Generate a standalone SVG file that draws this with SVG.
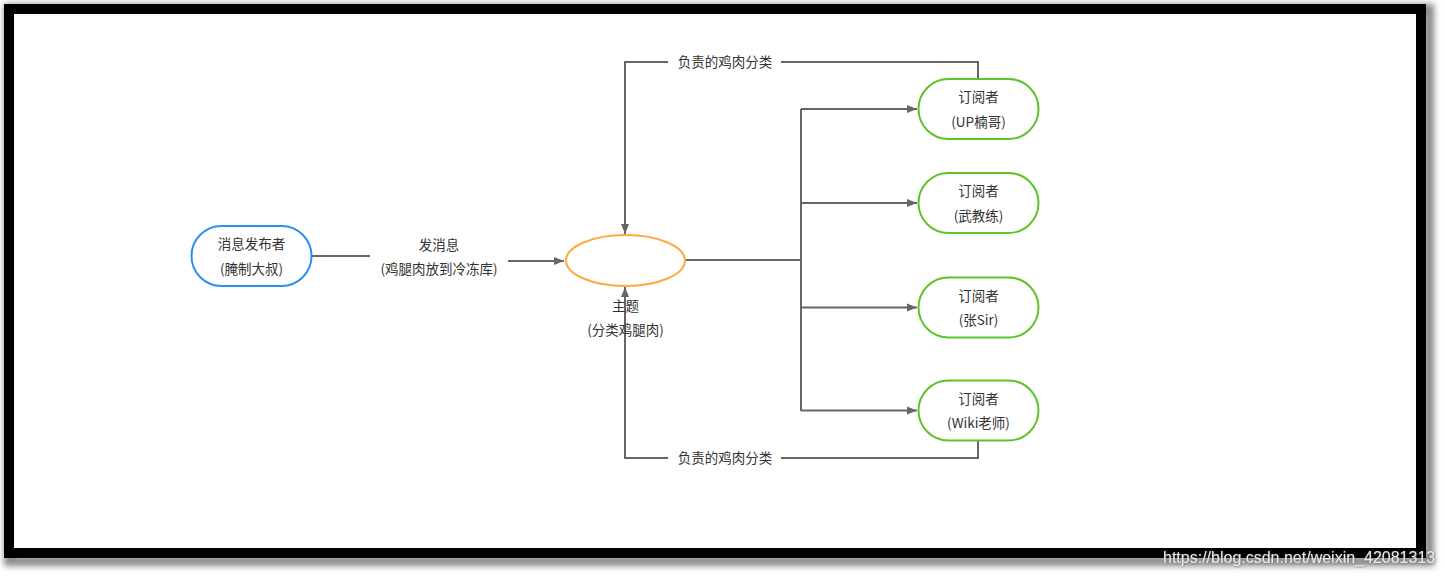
<svg xmlns="http://www.w3.org/2000/svg" width="1445" height="577" viewBox="0 0 1445 577">
  <style>
    text { font-family: "Noto Sans CJK SC", "Liberation Sans", sans-serif; font-size: 13.5px; fill: #333; text-anchor: middle; dominant-baseline: central; }
    .node { fill: #fff; stroke-width: 2; }
    .pub { stroke: #2b8ff0; }
    .topic { stroke: #ffa940; }
    .sub { stroke: #5cc42a; }
    .edge { fill: none; stroke: #666; stroke-width: 2; }
    .wm { font-family: "Liberation Sans", Arial, sans-serif; font-size: 16px; fill: #e8e8e8; text-anchor: start; dominant-baseline: auto; }
  </style>
  <defs>
    <marker id="arr" markerUnits="userSpaceOnUse" markerWidth="12" markerHeight="9" refX="10" refY="4.5" orient="auto">
      <path d="M0,0.5 L10,4.5 L0,8.5 z" fill="#666"/>
    </marker>
    <filter id="blur" x="-5%" y="-5%" width="110%" height="110%">
      <feGaussianBlur stdDeviation="3"/>
    </filter>
    <filter id="tshadow" x="-5%" y="-30%" width="110%" height="160%">
      <feDropShadow dx="0.5" dy="0.5" stdDeviation="0.8" flood-color="#555" flood-opacity="0.8"/>
    </filter>
  </defs>
  <rect x="0" y="0" width="1445" height="577" fill="#fff"/>
  <rect x="9" y="9" width="1420" height="552" fill="none" stroke="#888" stroke-width="10" filter="url(#blur)"/>
  <rect x="9" y="9" width="1412" height="544" fill="#fff" stroke="#000" stroke-width="10"/>

  <g id="connectors">
    <path class="edge" d="M312,256 L370,256"/>
    <path class="edge" d="M508,261 L564,261" marker-end="url(#arr)"/>
    <path class="edge" d="M685,260 L801,260"/>
    <path class="edge" d="M801,109 L801,411"/>
    <path class="edge" d="M801,109 L917,109" marker-end="url(#arr)"/>
    <path class="edge" d="M801,203 L917,203" marker-end="url(#arr)"/>
    <path class="edge" d="M801,307.5 L917,307.5" marker-end="url(#arr)"/>
    <path class="edge" d="M801,410.5 L917,410.5" marker-end="url(#arr)"/>
    <path class="edge" d="M978,79 L978,62 L625,62 L625,234" marker-end="url(#arr)"/>
    <path class="edge" d="M978,441 L978,458 L625,458 L625,287" marker-end="url(#arr)"/>
    <rect x="668" y="52" width="113" height="20" fill="#fff"/>
    <rect x="668" y="448" width="113" height="20" fill="#fff"/>
    <text x="725" y="61">负责的鸡肉分类</text>
    <text x="725" y="457">负责的鸡肉分类</text>
    <text x="439" y="244">发消息</text>
    <text x="439" y="268">(鸡腿肉放到冷冻库)</text>
  </g>

  <g id="publisher">
    <rect class="node pub" x="191.5" y="226" width="120" height="60" rx="30"/>
    <text x="251.5" y="243">消息发布者</text>
    <text x="251.5" y="267.5">(腌制大叔)</text>
  </g>

  <g id="topic">
    <ellipse class="node topic" cx="625.5" cy="260.5" rx="59.5" ry="25.5"/>
    <text x="625.5" y="305">主题</text>
    <text x="625.5" y="329">(分类鸡腿肉)</text>
  </g>

  <g id="sub1">
    <rect class="node sub" x="918.5" y="79" width="120" height="60" rx="30"/>
    <text x="978.5" y="96">订阅者</text>
    <text x="978.5" y="120.5">(UP楠哥)</text>
  </g>
  <g id="sub2">
    <rect class="node sub" x="918.5" y="173" width="120" height="60" rx="30"/>
    <text x="978.5" y="190">订阅者</text>
    <text x="978.5" y="214.5">(武教练)</text>
  </g>
  <g id="sub3">
    <rect class="node sub" x="918.5" y="277.5" width="120" height="60" rx="30"/>
    <text x="978.5" y="294.5">订阅者</text>
    <text x="978.5" y="319">(张Sir)</text>
  </g>
  <g id="sub4">
    <rect class="node sub" x="918.5" y="380.5" width="120" height="60" rx="30"/>
    <text x="978.5" y="397.5">订阅者</text>
    <text x="978.5" y="422">(Wiki老师)</text>
  </g>

  <text class="wm" x="1163" y="563" filter="url(#tshadow)">https://blog.csdn.net/weixin_42081313</text>
</svg>
